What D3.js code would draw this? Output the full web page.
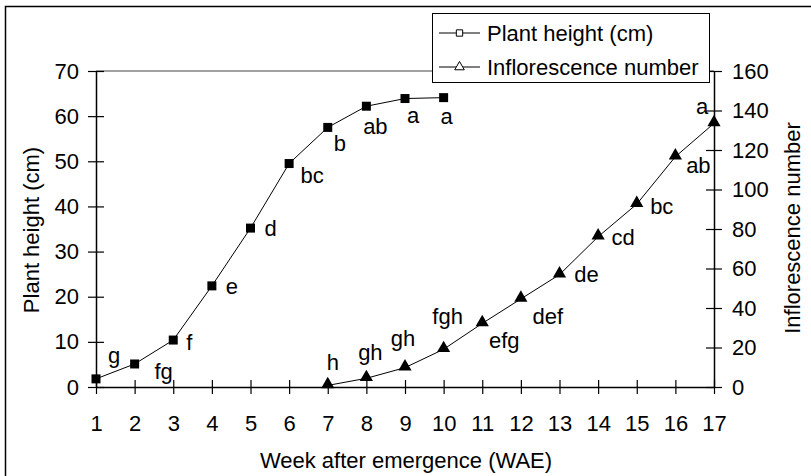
<!DOCTYPE html>
<html><head><meta charset="utf-8">
<script src="https://cdn.jsdelivr.net/npm/d3@7"></script>
<style>body{margin:0;background:#fff}svg{display:block}text{font-family:Arial,"Liberation Sans",sans-serif;fill:#000}</style>
</head><body><svg id="c" width="811" height="476"></svg>
<script>
const weeks = d3.range(1, 18);
const heightWeeks = [1,2,3,4,5,6,7,8,9,10];
const heightValues = [1.8,5.1,10.4,22.4,35.2,49.5,57.5,62.2,63.9,64.1];
const heightLetters = ["g","fg","f","e","d","bc","b","ab","a","a"];
const inflWeeks = [7,8,9,10,11,12,13,14,15,16,17];
const inflValues = [0.8,4.4,9.8,19.1,32.2,44.6,56.9,76.1,92.6,116.6,133.5];
const inflLetters = ["h","gh","gh","fgh","efg","def","de","cd","bc","ab","a"];
const leftTicks = [0,10,20,30,40,50,60,70];
const rightTicks = [0,20,40,60,80,100,120,140,160];
const seriesNames = ["Plant height (cm)","Inflorescence number"];
// label offsets (presentation)
const hOff = [[18,-22],[29,8],[16,3],[20,2],[20,1],[23,13],[12,17],[9,21],[8,18],[3,20]];
const iOff = [[5,-22],[4,-25],[-2,-28],[4,-32],[22,18],[27,18],[27,1],[25,2],[25,3],[23,10],[-12,-16]];

const svg = d3.select("#c");
const fs = 22;
svg.append("rect").attr("x",5.5).attr("y",6.5).attr("width",900).attr("height",600)
  .attr("fill","none").attr("stroke","#000").attr("stroke-width",1.5);

const x = d3.scaleLinear().domain([1,17]).range([96,714]);
const yL = d3.scaleLinear().domain([0,70]).range([387,71]);
const yR = d3.scaleLinear().domain([0,160]).range([387,71]);

// top line
svg.append("line").attr("x1",96).attr("x2",714).attr("y1",71).attr("y2",71).attr("stroke","#444").attr("stroke-width",1.2);

function styleAxis(g){
  g.attr("font-size",fs).attr("font-family","Arial, 'Liberation Sans', sans-serif");
  g.selectAll(".domain").attr("stroke","#000").attr("stroke-width",1.5);
  g.selectAll(".tick line").attr("stroke","#000").attr("stroke-width",1.2);
  g.selectAll("text").attr("font-size",fs);
}
const gx = svg.append("g").attr("transform","translate(0,387)")
  .call(d3.axisBottom(x).tickValues(weeks).tickFormat(d3.format("d")).tickSize(7).tickSizeOuter(0));
styleAxis(gx);
gx.selectAll(".tick line").attr("y1",-7).attr("y2",7);
gx.selectAll(".tick text").attr("y",28).attr("dy","0.71em");

const gl = svg.append("g").attr("transform","translate(96,0)")
  .call(d3.axisLeft(yL).tickValues(leftTicks).tickSize(8).tickSizeOuter(0));
styleAxis(gl);
gl.selectAll(".tick line").attr("x1",-8).attr("x2",8);
gl.selectAll(".tick text").attr("x",-17);

const gr = svg.append("g").attr("transform","translate(714,0)")
  .call(d3.axisRight(yR).tickValues(rightTicks).tickSize(8).tickSizeOuter(0));
styleAxis(gr);
gr.selectAll(".tick line").attr("x1",-8).attr("x2",8);
gr.selectAll(".tick text").attr("x",18);

// titles
svg.append("text").attr("x",406).attr("y",468).attr("text-anchor","middle").attr("font-size",fs).text("Week after emergence (WAE)");
svg.append("text").attr("transform","translate(39,230) rotate(-90)").attr("text-anchor","middle").attr("font-size",fs).text("Plant height (cm)");
svg.append("text").attr("transform","translate(800,228) rotate(-90)").attr("text-anchor","middle").attr("font-size",fs).text("Inflorescence number");

// series
const hData = heightWeeks.map((w,i)=>({w,v:heightValues[i],l:heightLetters[i],o:hOff[i]}));
const iData = inflWeeks.map((w,i)=>({w,v:inflValues[i],l:inflLetters[i],o:iOff[i]}));
svg.append("path").datum(hData).attr("fill","none").attr("stroke","#000").attr("stroke-width",1)
  .attr("d",d3.line().x(d=>x(d.w)).y(d=>yL(d.v)));
svg.append("path").datum(iData).attr("fill","none").attr("stroke","#000").attr("stroke-width",1)
  .attr("d",d3.line().x(d=>x(d.w)).y(d=>yR(d.v)));
const sq = d3.symbol().type(d3.symbolSquare).size(81);
const tri = d3.symbol().type(d3.symbolTriangle).size(75);
svg.selectAll(".hp").data(hData).join("path").attr("d",sq)
  .attr("transform",d=>`translate(${x(d.w)},${yL(d.v)})`).attr("fill","#000");
svg.selectAll(".ip").data(iData).join("path").attr("d",tri)
  .attr("transform",d=>`translate(${x(d.w)},${yR(d.v)-1})`).attr("fill","#000");
svg.selectAll(".hl").data(hData).join("text").attr("font-size",fs).attr("text-anchor","middle")
  .attr("x",d=>x(d.w)+d.o[0]).attr("y",d=>yL(d.v)+d.o[1]).attr("dy","0.3em").text(d=>d.l);
svg.selectAll(".il").data(iData).join("text").attr("font-size",fs).attr("text-anchor","middle")
  .attr("x",d=>x(d.w)+d.o[0]).attr("y",d=>yR(d.v)+d.o[1]).attr("dy","0.3em").text(d=>d.l);

// legend
const lg = svg.append("g");
lg.append("rect").attr("x",432.5).attr("y",13.5).attr("width",277).attr("height",69)
  .attr("fill","#fff").attr("stroke","#000").attr("stroke-width",1);
const syms = [d3.symbol().type(d3.symbolSquare).size(40), d3.symbol().type(d3.symbolTriangle).size(40)];
seriesNames.forEach((n,i)=>{
  const yy = 33 + i*34;
  lg.append("line").attr("x1",439).attr("x2",480).attr("y1",yy).attr("y2",yy).attr("stroke","#000").attr("stroke-width",1);
  lg.append("path").attr("d",syms[i]).attr("transform",`translate(459.5,${yy})`).attr("fill","#fff").attr("stroke","#000").attr("stroke-width",1);
  lg.append("text").attr("x",487).attr("y",yy).attr("dy","0.35em").attr("font-size",fs).text(n);
});
</script></body></html>
